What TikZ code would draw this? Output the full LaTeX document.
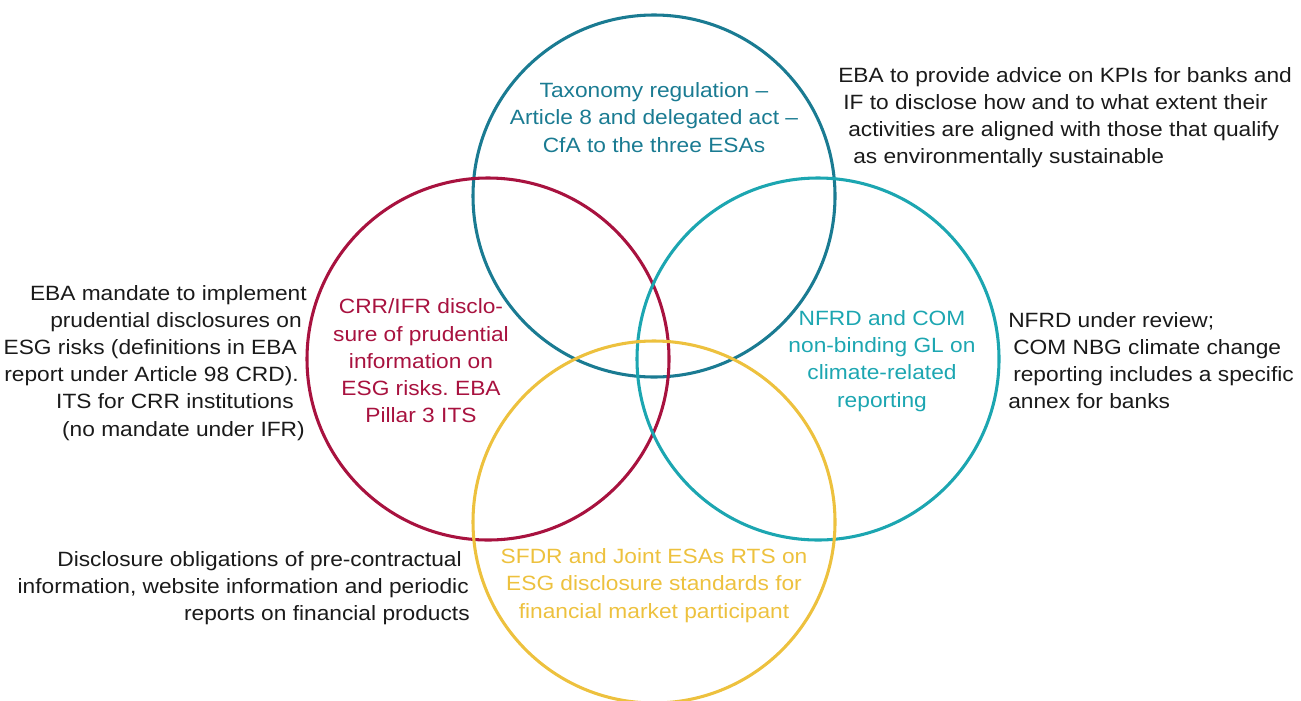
\documentclass[tikz,border=0pt]{standalone}
\usepackage{fontspec}
\setmainfont{Liberation Sans}[FakeStretch=1.1]
\frenchspacing
\definecolor{taxo}{HTML}{1A7B92}
\definecolor{crr}{HTML}{A8123F}
\definecolor{nfrd}{HTML}{1CA6B1}
\definecolor{sfdr}{HTML}{EDC13E}
\definecolor{note}{HTML}{1A1A1A}
\begin{document}
\begin{tikzpicture}[x=0.75pt,y=-0.75pt,
  ring/.style={circle,draw=#1,line width=2.3pt,inner sep=0pt,minimum size=271.5pt},
  ringtext/.style={text=#1,align=center,inner sep=0pt,
    font=\fontsize{15.5}{20.4}\selectfont},
  notel/.style={text=note,inner sep=0pt,anchor=base east,
    font=\fontsize{15.5}{20.4}\selectfont},
  noter/.style={text=note,inner sep=0pt,anchor=base west,
    font=\fontsize{15.5}{20.4}\selectfont}]
\useasboundingbox (0,0) rectangle (1301,700);

% the four overlapping circles
\node[ring=taxo] (taxonomy) at (654,196) {};
\node[ring=crr]  (crrifr)   at (488,359) {};
\node[ring=nfrd] (nfrdcom)  at (818,359) {};
\node[ring=sfdr] (sfdrrts)  at (654,522) {};

% labels inside the circles
\node[ringtext=taxo] (taxolabel) at (654,117.5)
  {Taxonomy regulation –\\Article 8 and delegated act –\\CfA to the three ESAs};
\node[ringtext=crr] (crrlabel) at (421,361)
  {CRR/IFR disclo-\\sure of prudential\\information on\\ESG risks. EBA\\Pillar 3 ITS};
\node[ringtext=nfrd] (nfrdlabel) at (882,361)
  {NFRD and COM\\non-binding GL on\\climate-related\\reporting};
\node[ringtext=sfdr] (sfdrlabel) at (654,585.5)
  {SFDR and Joint ESAs RTS on\\ESG disclosure standards for\\financial market participant};

% note beside the taxonomy circle
\node[noter] (tx1) at (838,82)  {EBA to provide advice on KPIs for banks and};
\node[noter] (tx2) at (843,109) {IF to disclose how and to what extent their};
\node[noter] (tx3) at (848,136) {activities are aligned with those that qualify};
\node[noter] (tx4) at (853,163) {as environmentally sustainable};

% note beside the CRR/IFR circle
\node[notel] (cr1) at (307,300) {EBA mandate to implement};
\node[notel] (cr2) at (302,327) {prudential disclosures on};
\node[notel] (cr3) at (297,354) {ESG risks (definitions in EBA};
\node[notel] (cr4) at (299,381) {report under Article 98 CRD).};
\node[notel] (cr5) at (294,408) {ITS for CRR institutions};
\node[notel] (cr6) at (305,436) {(no mandate under IFR)};

% note beside the NFRD circle
\node[noter] (nf1) at (1008,327) {NFRD under review;};
\node[noter] (nf2) at (1013,354) {COM NBG climate change};
\node[noter] (nf3) at (1013,381) {reporting includes a specific};
\node[noter] (nf4) at (1008,408) {annex for banks};

% note beside the SFDR circle
\node[notel] (sf1) at (462,566) {Disclosure obligations of pre-contractual};
\node[notel] (sf2) at (469,593) {information, website information and periodic};
\node[notel] (sf3) at (470,620) {reports on financial products};
\end{tikzpicture}
\end{document}
